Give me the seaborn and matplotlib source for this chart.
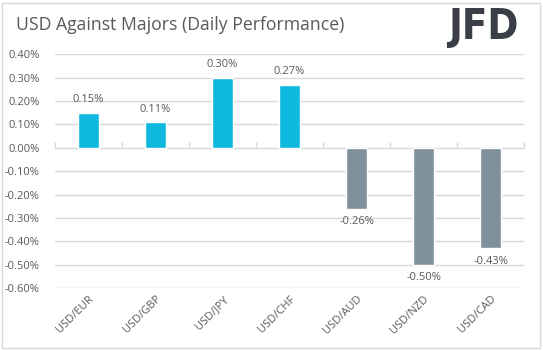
import matplotlib
matplotlib.use("Agg")
import matplotlib.pyplot as plt
import seaborn as sns
import pandas as pd
from matplotlib.patches import Rectangle

pairs = ["USD/EUR", "USD/GBP", "USD/JPY", "USD/CHF", "USD/AUD", "USD/NZD", "USD/CAD"]
values = [0.15, 0.11, 0.30, 0.27, -0.26, -0.50, -0.43]
y_ticks = [0.4, 0.3, 0.2, 0.1, 0.0, -0.1, -0.2, -0.3, -0.4, -0.5, -0.6]
title = "USD Against Majors (Daily Performance)"
logo = "JFD"

POS = "#0FB8DE"
NEG = "#7F929C"
GRID = "#D9D9D9"
TXT = "#595959"

sns.set_theme(style="white")
plt.rcParams["font.family"] = ["Open Sans", "DejaVu Sans"]

df = pd.DataFrame({"pair": pairs, "value": values})
df["sign"] = ["pos" if v >= 0 else "neg" for v in values]

fig = plt.figure(figsize=(5.43, 3.51), dpi=100)
ax = fig.add_axes([55 / 543, 1 - 288 / 351, (524 - 55) / 543, (288 - 54.3) / 351])

sns.barplot(data=df, x="pair", y="value", hue="sign", palette={"pos": POS, "neg": NEG},
            width=0.3, legend=False, ax=ax, saturation=1)

ax.set_ylim(-0.6, 0.4)
ax.set_xlim(-0.5, len(pairs) - 0.5)
ax.set_yticks(y_ticks)
ax.set_yticklabels([f"{t:.2f}%" for t in y_ticks])
ax.yaxis.grid(True, color=GRID, lw=1)
ax.set_axisbelow(True)
for s in ax.spines.values():
    s.set_visible(False)
ax.set_xlabel("")
ax.set_ylabel("")
ax.tick_params(axis="y", length=0, pad=11, labelsize=8, labelcolor=TXT)
ax.tick_params(axis="x", length=0, pad=4, labelsize=8, labelcolor=TXT)
for lab in ax.get_xticklabels():
    lab.set_rotation(45)
    lab.set_ha("right")
    lab.set_rotation_mode("anchor")

# zero axis with category boundary ticks
sec = ax.secondary_xaxis(0.6)
sec.set_xticks([i - 0.5 for i in range(len(pairs) + 1)])
sec.set_xticklabels([])
sec.tick_params(axis="x", direction="out", length=4, color=GRID, width=1)
sec.spines["bottom"].set_color(GRID)
for k in ["top", "left", "right"]:
    if k in sec.spines:
        sec.spines[k].set_visible(False)

for i, v in enumerate(values):
    off = 13 if v >= 0 else -13
    ax.annotate(f"{v:.2f}%", (i, v), xytext=(0, off), textcoords="offset pixels",
                ha="center", va="center", fontsize=8, color=TXT)

fig.text(16 / 543, 1 - 25 / 351, title, fontsize=12.7, color=TXT, ha="left", va="center")

fig.text(519 / 543, 1 - 27 / 351, logo, fontsize=30, fontweight="bold", color="#3A3F47",
         ha="right", va="center", family=["DejaVu Sans"], fontstretch="condensed")

fig.patches.append(Rectangle((2 / 543, 3 / 351), 538 / 543, 345 / 351, transform=fig.transFigure,
                             fill=False, edgecolor=GRID, lw=1))

fig.savefig("out.png", dpi=100)
